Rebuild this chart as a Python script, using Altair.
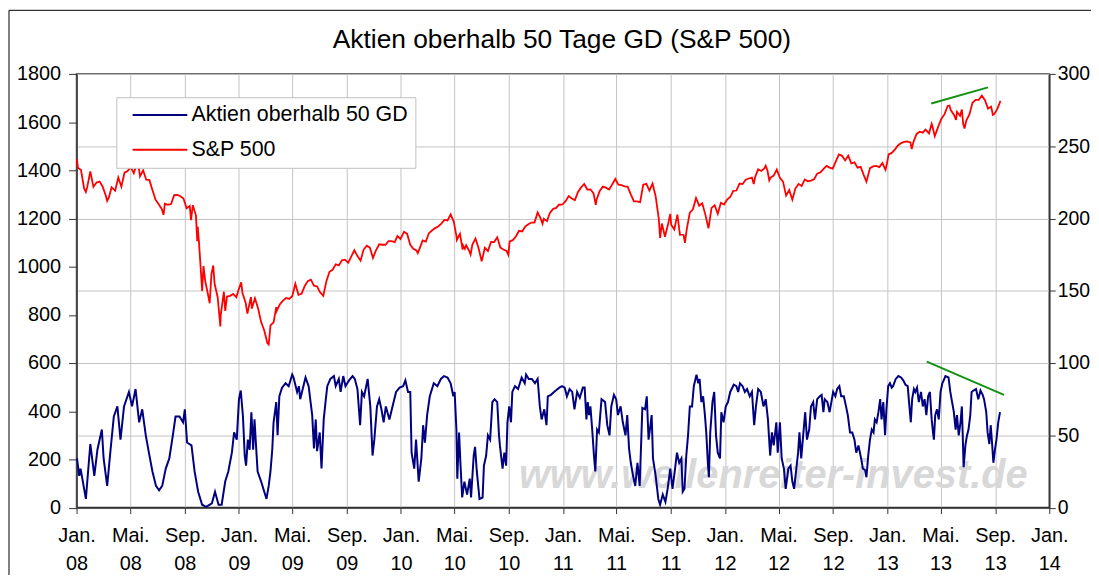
import altair as alt
import pandas as pd

TITLE = "Aktien oberhalb 50 Tage GD (S&P 500)"
SP_NAME = "S&P 500"
BR_NAME = "Aktien oberhalb 50 GD"
WATERMARK = "www.wellenreiter-invest.de"

# ---------------- S&P 500 (left axis) ----------------
sp_2008 = [("01-02", 1447), ("01-04", 1411), ("01-11", 1401), ("01-18", 1325), ("01-22", 1310), ("01-25", 1330),
           ("02-01", 1395), ("02-08", 1331), ("02-15", 1349), ("02-22", 1353), ("02-29", 1331), ("03-07", 1294),
           ("03-10", 1273), ("03-14", 1288), ("03-20", 1330), ("03-28", 1315), ("04-04", 1370), ("04-11", 1332),
           ("04-18", 1390), ("04-25", 1397), ("05-02", 1414), ("05-09", 1388), ("05-16", 1426), ("05-19", 1426),
           ("05-23", 1375), ("05-30", 1400), ("06-06", 1361), ("06-13", 1360), ("06-20", 1318), ("06-27", 1278),
           ("07-03", 1262), ("07-11", 1239), ("07-15", 1215), ("07-18", 1261), ("07-25", 1257), ("08-01", 1260),
           ("08-08", 1297), ("08-15", 1298), ("08-22", 1292), ("08-29", 1283), ("09-05", 1242), ("09-12", 1252),
           ("09-15", 1193), ("09-19", 1255), ("09-26", 1213), ("09-29", 1106), ("09-30", 1166), ("10-03", 1099),
           ("10-10", 899), ("10-13", 1003), ("10-17", 940), ("10-24", 877), ("10-27", 848), ("10-31", 969),
           ("11-04", 1005), ("11-07", 930), ("11-14", 873), ("11-20", 752), ("11-21", 800), ("11-28", 896),
           ("12-01", 816), ("12-05", 876), ("12-12", 879), ("12-19", 887), ("12-26", 873), ("12-31", 903)]
sp_2009 = [("01-06", 935), ("01-09", 890), ("01-16", 850), ("01-20", 805), ("01-23", 832), ("01-28", 874),
           ("01-30", 826), ("02-06", 869), ("02-13", 827), ("02-20", 770), ("02-27", 735), ("03-06", 683),
           ("03-09", 677), ("03-13", 756), ("03-20", 769), ("03-26", 832), ("03-27", 816), ("04-03", 843),
           ("04-09", 857), ("04-17", 870), ("04-24", 866), ("05-01", 877), ("05-08", 929), ("05-15", 883),
           ("05-22", 887), ("05-29", 919), ("06-05", 940), ("06-12", 946), ("06-19", 921), ("06-26", 918),
           ("07-02", 896), ("07-10", 879), ("07-17", 940), ("07-24", 979), ("07-31", 987), ("08-07", 1010),
           ("08-14", 1005), ("08-21", 1026), ("08-28", 1029), ("09-04", 1016), ("09-11", 1042), ("09-18", 1068),
           ("09-25", 1044), ("10-02", 1025), ("10-09", 1071), ("10-16", 1087), ("10-23", 1079), ("10-30", 1036),
           ("11-06", 1069), ("11-13", 1093), ("11-20", 1091), ("11-27", 1091), ("12-04", 1106), ("12-11", 1106),
           ("12-18", 1102), ("12-24", 1127), ("12-31", 1115)]
sp_2010 = [("01-08", 1145), ("01-15", 1136), ("01-22", 1091), ("01-29", 1074), ("02-05", 1067), ("02-08", 1056),
           ("02-12", 1075), ("02-19", 1109), ("02-26", 1104), ("03-05", 1139), ("03-12", 1150), ("03-19", 1160),
           ("03-26", 1167), ("04-02", 1179), ("04-09", 1194), ("04-16", 1192), ("04-23", 1217), ("04-30", 1187),
           ("05-06", 1128), ("05-07", 1111), ("05-14", 1136), ("05-20", 1071), ("05-21", 1088), ("05-25", 1074),
           ("05-28", 1089), ("06-04", 1065), ("06-07", 1050), ("06-11", 1092), ("06-18", 1117), ("06-25", 1076),
           ("07-02", 1022), ("07-09", 1078), ("07-16", 1065), ("07-23", 1103), ("07-30", 1102), ("08-06", 1122),
           ("08-13", 1079), ("08-20", 1071), ("08-27", 1065), ("08-31", 1049), ("09-03", 1105), ("09-10", 1110),
           ("09-17", 1125), ("09-24", 1149), ("10-01", 1146), ("10-08", 1166), ("10-15", 1176), ("10-22", 1183),
           ("10-29", 1183), ("11-05", 1225), ("11-12", 1199), ("11-16", 1178), ("11-19", 1199), ("11-26", 1189),
           ("12-03", 1224), ("12-10", 1240), ("12-17", 1244), ("12-23", 1257), ("12-31", 1258)]
sp_2011 = [("01-07", 1272), ("01-14", 1293), ("01-21", 1283), ("01-28", 1276), ("02-04", 1310), ("02-11", 1329),
           ("02-18", 1343), ("02-25", 1320), ("03-04", 1321), ("03-11", 1304), ("03-16", 1257), ("03-18", 1279),
           ("03-25", 1314), ("04-01", 1332), ("04-08", 1328), ("04-15", 1320), ("04-21", 1338), ("04-29", 1364),
           ("05-06", 1340), ("05-13", 1338), ("05-20", 1333), ("05-27", 1331), ("06-03", 1300), ("06-10", 1271),
           ("06-17", 1271), ("06-24", 1268), ("07-01", 1340), ("07-08", 1344), ("07-15", 1316), ("07-22", 1345),
           ("07-29", 1292), ("08-05", 1199), ("08-08", 1119), ("08-12", 1179), ("08-19", 1124), ("08-26", 1177),
           ("08-31", 1219), ("09-02", 1174), ("09-09", 1154), ("09-16", 1216), ("09-22", 1129), ("09-23", 1136),
           ("09-30", 1131), ("10-03", 1099), ("10-07", 1155), ("10-14", 1224), ("10-21", 1238), ("10-28", 1285),
           ("11-04", 1253), ("11-11", 1263), ("11-18", 1216), ("11-25", 1159), ("12-02", 1244), ("12-09", 1255),
           ("12-16", 1219), ("12-23", 1265), ("12-30", 1258)]
sp_2012 = [("01-06", 1278), ("01-13", 1289), ("01-20", 1315), ("01-27", 1316), ("02-03", 1345), ("02-10", 1343),
           ("02-17", 1361), ("02-24", 1366), ("03-02", 1370), ("03-06", 1343), ("03-09", 1371), ("03-16", 1404),
           ("03-23", 1397), ("03-30", 1408), ("04-02", 1419), ("04-06", 1398), ("04-10", 1358), ("04-13", 1370),
           ("04-20", 1378), ("04-27", 1403), ("05-04", 1369), ("05-11", 1353), ("05-18", 1295), ("05-25", 1318),
           ("06-01", 1278), ("06-08", 1325), ("06-15", 1343), ("06-22", 1335), ("06-29", 1362), ("07-06", 1354),
           ("07-13", 1357), ("07-20", 1363), ("07-27", 1386), ("08-03", 1391), ("08-10", 1405), ("08-17", 1418),
           ("08-24", 1411), ("08-31", 1407), ("09-07", 1437), ("09-14", 1466), ("09-21", 1460), ("09-28", 1441),
           ("10-05", 1461), ("10-12", 1429), ("10-19", 1433), ("10-26", 1411), ("11-02", 1414), ("11-09", 1380),
           ("11-15", 1353), ("11-23", 1409), ("11-30", 1416), ("12-07", 1418), ("12-14", 1413), ("12-21", 1430),
           ("12-28", 1402), ("12-31", 1426)]
sp_2013 = [("01-04", 1466), ("01-11", 1472), ("01-18", 1486), ("01-25", 1503), ("02-01", 1513), ("02-08", 1518),
           ("02-15", 1520), ("02-22", 1516), ("02-25", 1488), ("03-01", 1518), ("03-08", 1551), ("03-15", 1560),
           ("03-22", 1556), ("03-28", 1569), ("04-05", 1553), ("04-11", 1593), ("04-12", 1588), ("04-18", 1542),
           ("04-26", 1582), ("05-03", 1614), ("05-10", 1633), ("05-17", 1667), ("05-21", 1669), ("05-24", 1650),
           ("05-31", 1631), ("06-05", 1609), ("06-07", 1643), ("06-14", 1626), ("06-18", 1652), ("06-21", 1593),
           ("06-24", 1573), ("06-28", 1606), ("07-05", 1632), ("07-12", 1680), ("07-19", 1692), ("07-26", 1692),
           ("08-02", 1710), ("08-09", 1691), ("08-16", 1656), ("08-23", 1664), ("08-27", 1630), ("08-30", 1633),
           ("09-06", 1655), ("09-13", 1688)]

# ------------- Aktien oberhalb 50 GD (right axis) -------------
br_2008 = [("01-02", 34), ("01-07", 22), ("01-10", 27), ("01-14", 20), ("01-22", 6), ("02-01", 44), ("02-10", 22),
           ("02-17", 40), ("02-27", 54), ("03-02", 34), ("03-10", 15), ("03-17", 38), ("03-25", 63), ("04-02", 70),
           ("04-09", 47), ("04-17", 70), ("04-28", 80), ("05-05", 70), ("05-13", 82), ("05-21", 59), ("05-28", 68),
           ("06-05", 50), ("06-12", 38), ("06-20", 25), ("06-28", 15), ("07-05", 12), ("07-12", 15), ("07-20", 27),
           ("07-28", 34), ("08-05", 50), ("08-11", 63), ("08-20", 63), ("08-28", 59), ("09-01", 68), ("09-06", 45),
           ("09-16", 43), ("09-23", 25), ("10-01", 11), ("10-10", 2), ("10-19", 0.5), ("11-01", 3), ("11-08", 11),
           ("11-16", 2), ("11-23", 2), ("12-01", 18), ("12-08", 25), ("12-16", 38), ("12-21", 52), ("12-27", 47)]
br_2009 = [("01-01", 75), ("01-05", 81), ("01-10", 63), ("01-14", 36), ("01-17", 29), ("01-21", 47), ("01-25", 40),
           ("01-29", 66), ("02-02", 40), ("02-05", 61), ("02-09", 40), ("02-12", 25), ("02-20", 18), ("02-27", 11),
           ("03-04", 6), ("03-09", 15), ("03-13", 25), ("03-17", 40), ("03-20", 59), ("03-26", 73), ("03-29", 50),
           ("04-02", 77), ("04-08", 83), ("04-16", 86), ("04-23", 84), ("05-01", 92), ("05-04", 90), ("05-12", 80),
           ("05-16", 84), ("05-19", 75), ("05-23", 80), ("05-31", 90), ("06-07", 84), ("06-15", 64), ("06-19", 41),
           ("06-23", 61), ("06-26", 39), ("07-02", 52), ("07-06", 27), ("07-11", 61), ("07-15", 73), ("07-19", 84),
           ("07-26", 89), ("08-03", 91), ("08-07", 84), ("08-14", 89), ("08-18", 80), ("08-24", 91), ("08-29", 84),
           ("09-06", 88), ("09-14", 91), ("09-19", 89), ("09-25", 82), ("10-01", 57), ("10-05", 80), ("10-10", 77),
           ("10-18", 89), ("10-24", 70), ("10-29", 36), ("11-02", 47), ("11-08", 70), ("11-13", 75), ("11-18", 68),
           ("11-23", 59), ("11-28", 70), ("12-06", 61), ("12-13", 70), ("12-21", 80), ("12-29", 83)]
br_2010 = [("01-06", 84), ("01-11", 88), ("01-17", 80), ("01-22", 80), ("01-25", 38), ("01-31", 27), ("02-04", 47),
           ("02-10", 18), ("02-16", 34), ("02-20", 57), ("02-24", 45), ("03-01", 64), ("03-07", 77), ("03-16", 86),
           ("03-24", 84), ("04-01", 89), ("04-08", 91), ("04-16", 90), ("04-23", 86), ("04-29", 77), ("05-02", 80),
           ("05-06", 54), ("05-08", 20), ("05-12", 52), ("05-15", 31), ("05-19", 7), ("05-24", 18), ("05-30", 9),
           ("06-05", 20), ("06-08", 7), ("06-14", 36), ("06-17", 42), ("06-21", 25), ("06-27", 6), ("07-04", 7),
           ("07-07", 29), ("07-12", 36), ("07-16", 50), ("07-21", 47), ("07-26", 73), ("07-31", 75), ("08-06", 73),
           ("08-10", 50), ("08-12", 43), ("08-18", 27), ("08-22", 38), ("08-26", 29), ("08-29", 59), ("09-02", 70),
           ("09-06", 59), ("09-09", 80), ("09-15", 84), ("09-22", 82), ("09-30", 90), ("10-07", 86), ("10-10", 92),
           ("10-16", 89), ("10-23", 89), ("10-30", 86), ("11-05", 89), ("11-10", 70), ("11-14", 61), ("11-20", 68),
           ("11-25", 57), ("11-28", 77), ("12-05", 78), ("12-12", 80), ("12-16", 81), ("12-24", 83), ("12-30", 84)]
br_2011 = [("01-05", 83), ("01-10", 77), ("01-16", 82), ("01-22", 80), ("01-27", 68), ("02-02", 80), ("02-08", 76),
           ("02-15", 83), ("02-19", 83), ("02-23", 61), ("02-26", 73), ("03-01", 64), ("03-04", 70), ("03-08", 54),
           ("03-12", 36), ("03-15", 25), ("03-19", 54), ("03-23", 52), ("03-29", 75), ("04-06", 73), ("04-11", 57),
           ("04-16", 50), ("04-20", 70), ("04-26", 78), ("05-01", 75), ("05-05", 64), ("05-11", 70), ("05-16", 59),
           ("05-22", 50), ("05-26", 64), ("05-30", 41), ("06-03", 31), ("06-08", 22), ("06-13", 15), ("06-18", 31),
           ("06-23", 15), ("06-29", 69), ("07-05", 68), ("07-09", 77), ("07-13", 47), ("07-16", 54), ("07-20", 64),
           ("07-23", 34), ("07-29", 22), ("08-04", 6), ("08-08", 2), ("08-14", 9), ("08-20", 4), ("08-25", 13),
           ("08-31", 27), ("09-05", 13), ("09-10", 25), ("09-15", 38), ("09-20", 31), ("09-25", 34), ("09-28", 11),
           ("10-02", 13), ("10-06", 36), ("10-10", 50), ("10-14", 70), ("10-19", 70), ("10-23", 84), ("10-29", 92),
           ("11-02", 86), ("11-05", 89), ("11-09", 73), ("11-13", 77), ("11-17", 64), ("11-20", 52), ("11-24", 29),
           ("11-26", 21), ("11-29", 52), ("12-04", 73), ("12-08", 80), ("12-12", 50), ("12-16", 38), ("12-21", 34),
           ("12-24", 66), ("12-29", 59)]
br_2012 = [("01-03", 70), ("01-08", 73), ("01-13", 80), ("01-21", 85), ("01-27", 84), ("01-31", 80), ("02-04", 86),
           ("02-10", 84), ("02-15", 80), ("02-20", 82), ("02-26", 77), ("03-02", 80), ("03-07", 57), ("03-11", 70),
           ("03-16", 82), ("03-22", 80), ("03-28", 70), ("04-02", 75), ("04-07", 61), ("04-12", 36), ("04-16", 52),
           ("04-20", 43), ("04-26", 59), ("04-29", 38), ("05-04", 59), ("05-08", 34), ("05-13", 27), ("05-17", 13),
           ("05-23", 27), ("05-28", 29), ("06-01", 18), ("06-05", 13), ("06-10", 27), ("06-14", 38), ("06-17", 52),
           ("06-21", 34), ("06-26", 52), ("06-30", 66), ("07-04", 47), ("07-09", 54), ("07-13", 70), ("07-18", 73),
           ("07-22", 61), ("07-27", 75), ("08-02", 77), ("08-06", 78), ("08-10", 66), ("08-13", 75), ("08-19", 73),
           ("08-24", 66), ("09-01", 80), ("09-06", 77), ("09-10", 82), ("09-15", 84), ("09-19", 77), ("09-25", 77),
           ("09-30", 70), ("10-04", 64), ("10-09", 52), ("10-14", 52), ("10-19", 47), ("10-23", 38), ("10-28", 43),
           ("11-03", 34), ("11-07", 27), ("11-12", 26), ("11-15", 21), ("11-19", 36), ("11-23", 47), ("11-27", 54),
           ("12-01", 52), ("12-04", 61), ("12-08", 59), ("12-12", 66), ("12-16", 75), ("12-19", 61), ("12-23", 73),
           ("12-27", 50), ("12-30", 68)]
br_2013 = [("01-03", 84), ("01-07", 86), ("01-11", 83), ("01-14", 84), ("01-20", 89), ("01-26", 91), ("02-01", 90),
           ("02-06", 88), ("02-11", 85), ("02-16", 84), ("02-19", 73), ("02-23", 59), ("02-26", 75), ("03-02", 82),
           ("03-05", 80), ("03-09", 83), ("03-13", 73), ("03-18", 80), ("03-22", 70), ("03-26", 75), ("03-30", 64),
           ("04-03", 77), ("04-07", 80), ("04-11", 61), ("04-14", 52), ("04-16", 47), ("04-19", 64), ("04-23", 68),
           ("04-27", 61), ("05-01", 80), ("05-05", 86), ("05-08", 88), ("05-12", 91), ("05-19", 90), ("05-23", 80),
           ("05-27", 73), ("05-31", 66), ("06-04", 54), ("06-07", 64), ("06-11", 50), ("06-15", 59), ("06-18", 70),
           ("06-20", 50), ("06-22", 28), ("06-26", 43), ("06-29", 49), ("07-03", 54), ("07-07", 64), ("07-10", 80),
           ("07-14", 81), ("07-20", 82), ("07-25", 75), ("07-30", 81), ("08-04", 78), ("08-07", 75), ("08-12", 66),
           ("08-15", 52), ("08-19", 44), ("08-22", 57), ("08-25", 45), ("08-28", 31), ("09-01", 41), ("09-04", 47),
           ("09-08", 59), ("09-12", 66)]

# green trend lines drawn by the author
sp_trend_dates = ["2013-04-10", "2013-08-16"]
sp_trend_values = [1677, 1744]
br_trend_dates = ["2013-03-31", "2013-09-21"]
br_trend_values = [101, 78]

# watermark anchor (date, right-axis value)
wm_date = "2012-04-19"
wm_value = 13.7


def build(year_lists, name):
    rows = []
    for year, pts in year_lists:
        for md, v in pts:
            rows.append({"date": f"{year}-{md}", "value": v, "series": name})
    return pd.DataFrame(rows)


sp_df = build([(2008, sp_2008), (2009, sp_2009), (2010, sp_2010), (2011, sp_2011),
               (2012, sp_2012), (2013, sp_2013)], SP_NAME)
br_df = build([(2008, br_2008), (2009, br_2009), (2010, br_2010), (2011, br_2011),
               (2012, br_2012), (2013, br_2013)], BR_NAME)
sp_trend_df = pd.DataFrame({"date": sp_trend_dates, "value": sp_trend_values})
br_trend_df = pd.DataFrame({"date": br_trend_dates, "value": br_trend_values})
wm_df = pd.DataFrame({"date": [wm_date], "value": [wm_value], "text": [WATERMARK]})

FONT = "Liberation Sans"
DARK = "#333333"
GRID = "#c4c4c4"

x_domain = [alt.DateTime(year=2008, month=1, date=1, utc=True),
            alt.DateTime(year=2014, month=1, date=1, utc=True)]
tick_dates = [alt.DateTime(year=y, month=m, date=1, utc=True)
              for y in range(2008, 2014) for m in (1, 5, 9)]
tick_dates.append(alt.DateTime(year=2014, month=1, date=1, utc=True))

x_axis = alt.Axis(
    values=tick_dates,
    labelExpr="[utcmonth(datum.value) == 0 ? 'Jan.' : (utcmonth(datum.value) == 4 ? 'Mai.' : 'Sep.'), utcFormat(datum.value, '%y')]",
    title=None, grid=True, gridColor=GRID, tickSize=6, labelPadding=12,
    labelLineHeight=28.5, labelBaseline="top", labelAlign="center",
    labelFlush=False, labelOverlap=False,
)
x_enc = alt.X("date:T", scale=alt.Scale(type="utc", domain=x_domain, nice=False), axis=x_axis)

left_axis = alt.Axis(orient="left", values=list(range(0, 1801, 200)), format="d", grid=False, title=None,
                     tickSize=8, labelPadding=8)
right_axis = alt.Axis(orient="right", values=list(range(0, 301, 50)), format="d", grid=True, gridColor=GRID,
                      title=None, tickSize=6, labelPadding=2, labelFontSize=19.5)
y_left = alt.Y("value:Q", scale=alt.Scale(domain=[0, 1800], nice=False), axis=left_axis)
y_right = alt.Y("value:Q", scale=alt.Scale(domain=[0, 300], nice=False), axis=right_axis)

color_scale = alt.Scale(domain=[BR_NAME, SP_NAME], range=["#000080", "#ff0000"])
legend = alt.Legend(
    title=None, orient="none", legendX=40, legendY=23.5,
    symbolType="M-5,0H5", symbolSize=121, symbolStrokeWidth=2, symbolOffset=26.2,
    labelOffset=21, labelFont=FONT, labelFontSize=21.5, labelColor="black", labelLimit=500,
    padding=7, rowPadding=12, fillColor="white", strokeColor="#c0c0c0",
)
color_enc = alt.Color("series:N", scale=color_scale, legend=legend)

frame = alt.Chart(pd.DataFrame({"k": [0]})).mark_rect(
    filled=False, stroke="black", strokeWidth=1
).encode(x=alt.value(-68), x2=alt.value(3000), y=alt.value(-64), y2=alt.value(3000))

sp_line = alt.Chart(sp_df).mark_line(strokeWidth=1.8).encode(x=x_enc, y=y_left, color=color_enc)
sp_trend = alt.Chart(sp_trend_df).mark_line(color="#139113", strokeWidth=2).encode(x=x_enc, y=y_left)

watermark = alt.Chart(wm_df).mark_text(
    font=FONT, fontSize=40, fontStyle="italic", fontWeight="bold", color="#d8d8d8",
    align="center", baseline="alphabetic"
).encode(x=x_enc, y=y_right, text="text:N")
br_line = alt.Chart(br_df).mark_line(strokeWidth=2).encode(x=x_enc, y=y_right, color=color_enc)
br_trend = alt.Chart(br_trend_df).mark_line(color="#139113", strokeWidth=2).encode(x=x_enc, y=y_right)

left = alt.layer(frame, sp_line, sp_trend)
right = alt.layer(watermark, br_line, br_trend)

chart = alt.layer(left, right).resolve_scale(y="independent").properties(
    width=979, height=436.5,
    title=alt.Title(TITLE, fontSize=26.5, font=FONT, fontWeight="normal", color="black",
                    anchor="middle", frame="group", offset=0, dy=65, dx=-1,
                    baseline="alphabetic"),
    autosize=alt.AutoSizeParams(type="none"),
    padding={"left": 69, "top": 64.5, "right": 42, "bottom": 66},
).configure_view(
    stroke=DARK, strokeWidth=1.5
).configure_axis(
    domainColor=DARK, domainWidth=1.5, tickColor=DARK, labelColor="black",
    labelFont=FONT, labelFontSize=20,
)

chart.save("out.html", embed_options={"renderer": "svg", "actions": False})
